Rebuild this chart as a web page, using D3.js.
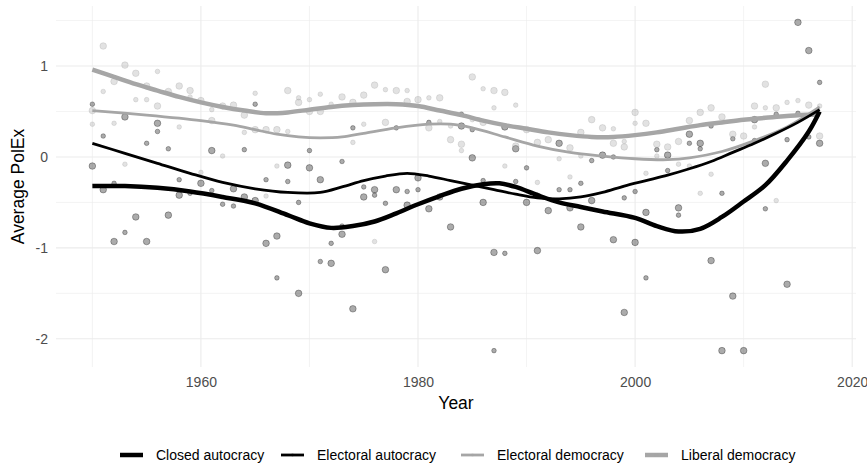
<!DOCTYPE html>
<html>
<head>
<meta charset="utf-8">
<script src="https://cdn.jsdelivr.net/npm/d3@7"></script>
<style>
  body { margin: 0; background: #fff; }
  svg { display: block; font-family: "Liberation Sans", Arial, Helvetica, sans-serif; }
</style>
</head>
<body>
<div id="main"></div>
<script>
// categories, in legend order
var seriesNames = ['Closed autocracy', 'Electoral autocracy', 'Electoral democracy', 'Liberal democracy'];

// yearly averages, [year, PolEx]
var closedPts = [[1950,-0.10],[1951,-0.36],[1952,-0.93],[1953,0.44],[1954,-0.66],[1955,-0.93],[1956,0.37],[1957,-0.64],
    [1958,-0.42],[1960,-0.29],[1961,0.07],[1963,-0.35],[1964,-0.44],[1965,-0.48],[1966,-0.95],[1967,-0.87],[1968,-0.09],
    [1969,-1.50],[1970,-0.12],[1971,-0.25],[1972,-1.17],[1973,-0.85],[1974,-1.67],[1975,-0.44],[1976,-0.36],[1977,-1.24],
    [1978,-0.36],[1979,-0.53],[1980,-0.23],[1981,-0.57],[1982,-0.44],[1983,-0.77],[1984,0.34],[1985,-0.01],[1986,-0.50],
    [1987,-1.05],[1988,0.33],[1989,0.09],[1990,-0.50],[1991,-1.03],[1992,-0.59],[1993,0.15],[1994,-0.56],[1995,-0.77],
    [1996,-0.48],[1997,0.02],[1998,-0.91],[1999,-1.71],[2000,-0.94],[2001,-0.61],[2003,0.02],[2004,-0.56],[2005,0.25],
    [2006,0.15],[2007,-1.14],[2008,-2.13],[2009,-1.53],[2010,-2.13],[2011,0.41],[2012,-0.07],[2014,-1.40],[2015,1.48],
    [2016,1.17],[2017,0.15]];
var electoralAutPts = [[1950,0.58],[1951,0.23],[1952,-0.29],[1953,-0.83],[1955,0.15],[1956,0.28],[1957,0.09],[1958,-0.25],
    [1959,-0.40],[1961,-0.37],[1962,-0.52],[1963,-0.54],[1964,0.08],[1965,0.58],[1966,-0.25],[1967,-1.33],[1968,-0.27],
    [1969,-0.50],[1970,0.07],[1971,-1.15],[1972,-0.95],[1973,-0.05],[1973,-0.76],[1974,0.32],[1975,-0.33],[1976,-0.42],
    [1977,-0.51],[1978,0.32],[1979,-0.38],[1980,-0.36],[1981,0.38],[1984,0.47],[1985,0.30],[1986,-0.26],[1987,-2.13],
    [1988,-1.06],[1989,-0.27],[1990,-0.12],[1991,-0.42],[1993,-0.36],[1994,-0.36],[1995,-0.29],[1996,-0.04],[1998,0.00],
    [1999,-0.45],[2000,-0.38],[2001,-1.33],[2002,0.08],[2003,-0.15],[2004,-0.64],[2005,0.15],[2006,0.09],[2007,0.34],
    [2008,-0.40],[2009,0.20],[2011,0.18],[2012,-0.57],[2013,0.47],[2014,0.19],[2015,0.48],[2016,0.22],[2017,0.82]];
var electoralDemPts = [[1950,0.36],[1951,0.72],[1952,0.37],[1953,-0.08],[1954,0.63],[1955,0.63],[1956,0.94],[1958,0.33],
    [1959,0.66],[1960,-0.17],[1961,0.52],[1962,0.01],[1964,0.27],[1965,0.70],[1966,-0.43],[1967,-0.10],[1968,0.28],
    [1969,0.65],[1970,0.63],[1971,0.69],[1972,0.58],[1974,0.16],[1975,0.36],[1976,-0.93],[1977,0.74],[1979,0.73],
    [1981,0.65],[1982,0.39],[1983,0.34],[1984,0.07],[1985,0.41],[1986,0.75],[1987,0.54],[1988,-0.10],[1989,0.57],
    [1991,-0.28],[1993,-0.02],[1994,-0.22],[1995,0.01],[1998,0.31],[1999,0.17],[2000,0.37],[2001,-0.18],[2002,0.01],
    [2004,-0.08],[2005,-0.10],[2006,-0.40],[2007,-0.19],[2011,0.33],[2012,0.54],[2013,-0.48],[2014,0.60],[2015,0.62],
    [2017,0.56]];
var liberalPts = [[1950,0.51],[1951,1.22],[1952,0.83],[1953,1.01],[1954,0.92],[1955,0.78],[1956,0.56],[1957,0.72],
    [1958,0.78],[1959,0.73],[1960,0.62],[1961,0.40],[1962,0.56],[1963,0.57],[1964,0.46],[1965,0.30],[1966,0.30],
    [1967,0.30],[1968,0.73],[1969,0.60],[1970,0.50],[1971,0.50],[1973,0.66],[1974,0.60],[1975,0.68],[1976,0.79],
    [1977,0.38],[1978,0.73],[1979,0.61],[1980,0.63],[1981,0.32],[1982,0.65],[1983,0.19],[1984,0.14],[1985,0.88],
    [1986,0.38],[1987,0.73],[1988,0.71],[1989,0.12],[1990,0.30],[1991,0.16],[1992,0.19],[1994,0.10],[1995,0.27],
    [1996,0.41],[1997,0.32],[1998,0.15],[1999,0.11],[2000,0.49],[2001,0.37],[2002,0.14],[2003,0.11],[2004,0.17],
    [2005,0.40],[2006,0.49],[2007,0.54],[2008,0.44],[2009,0.25],[2010,0.23],[2011,0.56],[2012,0.80],[2013,0.54],
    [2016,0.57],[2017,0.23]];

// smoothed trend
var closedFit = [[1950,-0.32],[1953,-0.32],[1956,-0.34],[1959,-0.38],[1962,-0.44],[1965,-0.51],[1968,-0.64],[1970,-0.73],
    [1972,-0.78],[1974,-0.76],[1976,-0.71],[1978,-0.62],[1980,-0.52],[1982,-0.43],[1984,-0.35],[1986,-0.30],[1987.5,-0.29],
    [1989,-0.33],[1991,-0.42],[1993,-0.50],[1995,-0.55],[1997,-0.60],[2000,-0.67],[2002,-0.76],[2004,-0.82],[2006,-0.79],
    [2008,-0.66],[2010,-0.49],[2012,-0.31],[2014,-0.04],[2016,0.28],[2017,0.50]];
var electoralAutFit = [[1950,0.15],[1953,0.04],[1956,-0.07],[1959,-0.18],[1962,-0.28],[1965,-0.35],[1968,-0.39],[1971,-0.39],
    [1973,-0.33],[1975,-0.26],[1977,-0.21],[1979,-0.18],[1981,-0.21],[1983,-0.26],[1985,-0.31],[1987,-0.36],[1989,-0.41],
    [1991,-0.45],[1993,-0.46],[1995,-0.44],[1997,-0.39],[1999,-0.32],[2001,-0.26],[2003,-0.20],[2005,-0.13],[2007,-0.05],
    [2009,0.05],[2011,0.15],[2013,0.26],[2015,0.38],[2017,0.52]];
var electoralDemFit = [[1950,0.51],[1955,0.46],[1960,0.40],[1963,0.35],[1965,0.30],[1967,0.25],[1969,0.22],[1971,0.21],
    [1973,0.22],[1975,0.26],[1978,0.32],[1981,0.36],[1983,0.36],[1985,0.32],[1988,0.22],[1991,0.12],[1994,0.05],
    [1997,0.01],[2000,-0.02],[2003,-0.03],[2005,-0.01],[2008,0.06],[2011,0.18],[2014,0.33],[2017,0.55]];
var liberalFit = [[1950,0.96],[1952,0.88],[1954,0.80],[1956,0.73],[1958,0.66],[1960,0.60],[1962,0.55],[1964,0.51],
    [1966,0.48],[1968,0.49],[1970,0.52],[1972,0.55],[1974,0.57],[1976,0.58],[1978,0.58],[1980,0.56],[1982,0.51],
    [1984,0.46],[1986,0.40],[1988,0.35],[1990,0.31],[1992,0.27],[1994,0.24],[1996,0.22],[1998,0.22],[2000,0.24],
    [2002,0.27],[2004,0.31],[2006,0.35],[2008,0.38],[2010,0.41],[2012,0.43],[2014,0.45],[2017,0.47]];

// tick values
var xMajor = [1960, 1980, 2000, 2020];
var xMinor = [1950, 1970, 1990, 2010];
var yMajor = [-2, -1, 0, 1];
var yMinor = [-1.5, -0.5, 0.5, 1.5];

var width = 867, height = 465;
var panel = {left: 56, right: 856, top: 6, bottom: 367};

var styles = {
    'Closed autocracy':    {color: '#000000', line: 4.5, r: 3.3, pts: closedPts, fit: closedFit},
    'Electoral autocracy': {color: '#000000', line: 2.8, r: 2.3, pts: electoralAutPts, fit: electoralAutFit},
    'Electoral democracy': {color: '#a6a6a6', line: 2.8, r: 2.3, pts: electoralDemPts, fit: electoralDemFit},
    'Liberal democracy':   {color: '#a6a6a6', line: 4.5, r: 3.3, pts: liberalPts, fit: liberalFit}
};

var svg = d3.select('#main').append('svg')
    .attr('width', width)
    .attr('height', height);

var x = d3.scaleLinear()
    .domain([1946.65, 2020.35])
    .range([panel.left, panel.right]);
var y = d3.scaleLinear()
    .domain([-2.31, 1.66])
    .range([panel.bottom, panel.top]);

// grid
var grid = svg.append('g').attr('class', 'grid');
grid.selectAll('.xminor').data(xMinor).enter().append('line')
    .attr('x1', d => x(d)).attr('x2', d => x(d))
    .attr('y1', panel.top).attr('y2', panel.bottom)
    .attr('stroke', '#ebebeb').attr('stroke-width', 0.6);
grid.selectAll('.yminor').data(yMinor).enter().append('line')
    .attr('x1', panel.left).attr('x2', panel.right)
    .attr('y1', d => y(d)).attr('y2', d => y(d))
    .attr('stroke', '#ebebeb').attr('stroke-width', 0.6);
grid.selectAll('.xmajor').data(xMajor).enter().append('line')
    .attr('x1', d => x(d)).attr('x2', d => x(d))
    .attr('y1', panel.top).attr('y2', panel.bottom)
    .attr('stroke', '#ebebeb').attr('stroke-width', 1.1);
grid.selectAll('.ymajor').data(yMajor).enter().append('line')
    .attr('x1', panel.left).attr('x2', panel.right)
    .attr('y1', d => y(d)).attr('y2', d => y(d))
    .attr('stroke', '#ebebeb').attr('stroke-width', 1.1);

// axes, text only
var xAxis = svg.append('g')
    .attr('transform', 'translate(0,' + panel.bottom + ')')
    .call(d3.axisBottom(x).tickValues(xMajor).tickFormat(d3.format('d')).tickSize(0).tickPadding(10));
var yAxis = svg.append('g')
    .attr('transform', 'translate(' + panel.left + ',0)')
    .call(d3.axisLeft(y).tickValues(yMajor).tickFormat(d => d).tickSize(0).tickPadding(8));
[xAxis, yAxis].forEach(function(a){
    a.select('.domain').remove();
    a.selectAll('text')
        .attr('fill', '#4d4d4d')
        .style('font-size', '14px')
        .style('font-family', '"Liberation Sans", Arial, sans-serif');
});

svg.append('text')
    .attr('x', (panel.left + panel.right) / 2)
    .attr('y', 409)
    .attr('text-anchor', 'middle')
    .style('font-size', '17.5px')
    .text('Year');

svg.append('text')
    .attr('transform', 'translate(24,' + ((panel.top + panel.bottom) / 2) + ') rotate(-90)')
    .attr('text-anchor', 'middle')
    .style('font-size', '17.5px')
    .text('Average PolEx');

// points
var pointLayer = svg.append('g').attr('class', 'points');
seriesNames.forEach(function(name){
    var s = styles[name];
    pointLayer.append('g').selectAll('circle')
        .data(s.pts)
        .enter()
        .append('circle')
        .attr('cx', d => x(d[0]))
        .attr('cy', d => y(d[1]))
        .attr('r', s.r)
        .attr('fill', s.color)
        .attr('fill-opacity', 0.33)
        .attr('stroke', s.color)
        .attr('stroke-opacity', 0.33)
        .attr('stroke-width', 0.9);
});

// smooth lines, grey ones first so black sits on top
var line = d3.line()
    .x(d => x(d[0]))
    .y(d => y(d[1]))
    .curve(d3.curveCatmullRom.alpha(0.5));

['Electoral democracy', 'Liberal democracy', 'Electoral autocracy', 'Closed autocracy'].forEach(function(name){
    var s = styles[name];
    svg.append('path')
        .datum(s.fit)
        .attr('d', line)
        .attr('fill', 'none')
        .attr('stroke', s.color)
        .attr('stroke-width', s.line)
        .attr('stroke-linecap', 'butt');
});

// legend
var legendX = [120, 281, 461, 645];
var legend = svg.append('g').attr('class', 'legend')
    .attr('transform', 'translate(0,455)');
var items = legend.selectAll('g')
    .data(seriesNames)
    .enter()
    .append('g')
    .attr('transform', (d, i) => 'translate(' + legendX[i] + ',0)');
items.append('line')
    .attr('x1', 0).attr('x2', 23)
    .attr('y1', 0).attr('y2', 0)
    .attr('stroke', d => styles[d].color)
    .attr('stroke-width', d => styles[d].line);
items.append('circle')
    .attr('cx', 11.5).attr('cy', 0)
    .attr('r', d => styles[d].r * 0.6)
    .attr('fill', d => styles[d].color)
    .attr('fill-opacity', 0.4);
items.append('text')
    .attr('x', 36)
    .attr('y', 0)
    .attr('dy', '0.35em')
    .style('font-size', '14px')
    .attr('fill', '#000')
    .text(d => d);
</script>
</body>
</html>
